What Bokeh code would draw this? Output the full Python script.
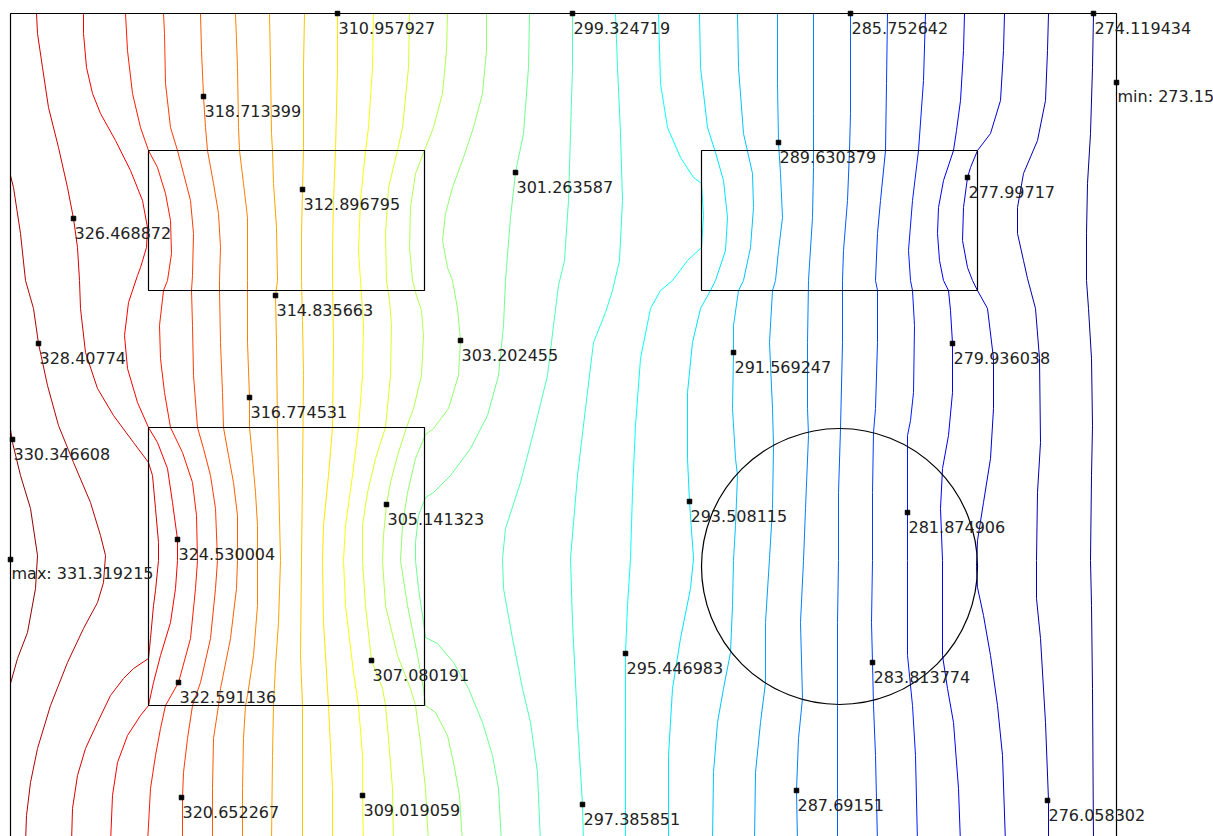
from bokeh.plotting import figure
from bokeh.models import Range1d
from bokeh.embed import file_html
from bokeh.resources import INLINE
from bokeh.core.properties import value

# ---- contour levels (K) ----
LEVELS = [274.119434, 276.058302, 277.99717, 279.936038, 281.874906, 283.813774,
          285.752642, 287.69151, 289.630379, 291.569247, 293.508115, 295.446983,
          297.385851, 299.324719, 301.263587, 303.202455, 305.141323, 307.080191,
          309.019059, 310.957927, 312.896795, 314.835663, 316.774531, 318.713399,
          320.652267, 322.591136, 324.530004, 326.468872, 328.40774, 330.346608]
T_MIN = 273.15
T_MAX = 331.319215

# ---- geometry (plate coordinates, y downward) ----
PLATE = dict(left=10, right=1116, top=13, bottom=843)
RECT_LEFT = [148, 148, 701]
RECT_RIGHT = [424, 424, 977]
RECT_TOP = [150, 427, 150]
RECT_BOTTOM = [290, 705, 290]
CIRCLE_X = [839]
CIRCLE_Y = [566]
CIRCLE_R = 138

# ---- contour paths, one per level ----
C274 = [(1093,13),(1092,67),(1090,133),(1087,183),(1086,233),(1086,280),(1088,308),(1091,358),
        (1092,425),(1091,475),(1090,560),(1091,605),(1092,688),(1093,843)]
C276 = [(1048,13),(1047,50),(1045,100),(1037,140),(1023,173),(1017,207),(1017,233),(1023,260),
        (1027,278),(1035,308),(1039,358),(1040,442),(1037,492),(1036,560),(1036,598),(1040,638),
        (1045,722),(1048,800),(1048,843)]
C278 = [(1004,13),(1003,50),(1000,100),(990,133),(977,150),(970,167),(967,177),(963,207),
        (962,240),(967,267),(972,280),(977,290),(987,308),(993,358),(993,408),(990,458),
        (983,502),(977,540),(976,566),(977,587),(983,615),(990,655),(997,705),(1002,755),(1005,843)]
C280 = [(964,13),(963,50),(960,100),(956,130),(953,150),(943,180),(938,207),(937,233),(939,260),
        (943,280),(948,290),(950,310),(952,343),(952,392),(948,435),(942,468),(940,508),(942,560),
        (942,655),(947,688),(953,722),(958,788),(960,843)]
C282 = [(925,13),(923,80),(918,150),(912,200),(908,250),(910,280),(912,290),(914,325),(913,392),
        (910,420),(907,435),(907,512),(907,560),(907,655),(912,705),(915,755),(917,843)]
C284 = [(887,13),(886,83),(885,150),(880,200),(877,233),(875,280),(877,290),(877,342),(875,408),
        (873,432),(872,492),(872,560),(871,622),(872,662),(873,705),(875,755),(877,843)]
C286 = [(850,13),(850,113),(849,150),(847,200),(843,250),(842,280),(842,342),(840,428),(838,492),
        (838,560),(837,622),(837,705),(837,843)]
C288 = [(813,13),(813,113),(813,167),(812,217),(808,280),(807,342),(807,408),(808,435),(805,508),
        (803,560),(800,622),(802,698),(798,738),(796,790),(797,843)]
C290 = [(777,13),(777,83),(778,142),(780,173),(782,217),(778,250),(775,280),(772,290),(769,342),
        (772,408),(773,445),(772,508),(769,558),(765,622),(765,682),(760,722),(755,772),(754,843)]
C292 = [(737,13),(738,67),(743,133),(752,173),(753,207),(750,247),(743,280),(738,290),(733,325),
        (733,352),(732,408),(735,458),(737,475),(735,525),(733,560),(732,605),(730,652),(723,688),
        (717,722),(713,772),(712,843)]
C294 = [(699,13),(700,67),(707,127),(715,152),(723,180),(727,217),(725,250),(715,280),(710,290),
        (700,308),(692,342),(687,392),(687,458),(689,501),(693,558),(690,588),(680,638),(672,688),
        (668,755),(668,843)]
C295 = [(658,13),(660,83),(667,127),(680,157),(693,177),(701,183),(703,215),(701,247),(687,260),
        (672,280),(660,290),(650,308),(640,358),(635,425),(632,492),(630,558),(627,605),(625,653),
        (625,722),(625,843)]
C297 = [(615,13),(617,67),(620,133),(622,200),(619,260),(612,290),(605,312),(593,342),(585,408),
        (577,475),(570,558),(572,622),(577,722),(582,804),(583,843)]
C299 = [(572,13),(572,67),(570,133),(568,200),(564,260),(558,285),(553,325),(547,375),(533,432),
        (520,482),(505,528),(502,558),(503,588),(512,638),(522,688),(530,722),(537,772),(540,843)]
C301 = [(529,13),(528,67),(523,133),(515,172),(510,217),(506,267),(505,280),(503,325),(498,375),
        (487,415),(470,448),(450,475),(433,492),(425,497),(418,515),(415,542),(415,560),(418,588),
        (423,622),(425,637),(437,643),(453,662),(468,688),(482,722),(492,755),(498,788),(501,843)]
C303 = [(486,13),(486,50),(482,93),(473,127),(463,157),(452,187),(445,213),(442,240),(447,267),
        (452,280),(457,308),(460,340),(458,375),(448,408),(433,428),(425,434),(415,458),(407,492),
        (402,525),(400,560),(407,605),(417,655),(423,688),(425,705),(435,712),(447,735),(453,762),
        (459,795),(462,843)]
C305 = [(447,13),(446,50),(442,93),(433,127),(424,150),(415,173),(410,207),(409,247),(412,280),
        (416,295),(421,310),(423,335),(421,375),(413,408),(406,427),(397,455),(390,482),(386,504),
        (383,535),(382,560),(385,605),(397,655),(410,688),(415,705),(420,742),(425,788),(428,843)]
C307 = [(409,13),(408,67),(402,127),(397,150),(388,187),(385,233),(386,280),(389,300),(391,325),
        (390,375),(385,427),(375,458),(367,492),(362,525),(362,560),(365,605),(371,660),(382,688),
        (385,705),(388,738),(392,788),(393,843)]
C309 = [(373,13),(372,67),(368,127),(365,150),(360,200),(358,250),(360,280),(363,325),(362,375),
        (358,427),(352,475),(345,525),(343,560),(345,605),(353,672),(358,705),(362,755),(362,795),
        (363,843)]
C311 = [(337,13),(337,67),(335,150),(333,200),(332,250),(332,280),(333,342),(332,427),(328,475),
        (323,525),(322,560),(323,622),(328,705),(332,788),(332,843)]
C313 = [(304,13),(303,67),(303,150),(302,189),(301,233),(301,280),(302,320),(303,375),(302,475),
        (301,560),(300,655),(302,705),(302,843)]
C315 = [(269,13),(270,67),(271,133),(272,150),(273,183),(276,227),(277,280),(275,295),(276,342),
        (277,427),(278,475),(280,560),(278,622),(275,665),(273,705),(272,755),(271,843)]
C317 = [(235,13),(237,67),(238,127),(239,150),(243,183),(247,217),(247,280),(247,342),(249,397),
        (249,427),(252,458),(255,492),(257,525),(257,560),(257,605),(253,655),(247,695),(245,705),
        (243,738),(242,788),(242,843)]
C319 = [(200,13),(201,50),(203,96),(205,127),(207,150),(213,183),(218,213),(220,247),(219,280),
        (219,290),(220,342),(222,392),(223,427),(228,455),(233,482),(237,515),(237,560),(236,588),
        (230,638),(220,688),(218,705),(213,738),(212,788),(212,843)]
C321 = [(163,13),(164,33),(165,83),(170,127),(177,150),(183,173),(190,200),(193,233),(192,275),
        (191,290),(192,325),(193,375),(197,427),(203,448),(210,475),(215,508),(217,560),(215,588),
        (210,638),(200,682),(192,705),(187,738),(183,772),(182,797),(182,843)]
C323 = [(125,13),(127,50),(132,93),(140,127),(148,150),(157,167),(165,193),(170,220),(171,253),
        (167,280),(163,290),(159,325),(160,358),(164,392),(170,427),(182,452),(192,482),(196,515),
        (197,560),(195,588),(190,638),(178,682),(165,705),(160,728),(155,755),(150,788),(147,843)]
C325 = [(83,13),(83,33),(86,67),(92,93),(100,113),(115,140),(130,170),(142,200),(147,227),
        (146,247),(140,267),(137,275),(128,302),(124,335),(127,368),(137,402),(148,427),(157,442),
        (167,468),(172,502),(177,539),(177,560),(175,588),(170,622),(160,655),(153,682),(148,705),
        (140,715),(127,735),(117,762),(112,795),(110,843)]
C326 = [(36,13),(37,33),(42,67),(48,107),(58,147),(67,187),(73,218),(77,247),(79,280),(80,308),
        (85,352),(97,388),(113,415),(133,442),(148,462),(152,475),(155,508),(158,542),(158,560),
        (155,590),(153,605),(150,638),(148,658),(133,668),(123,678),(110,695),(97,722),(85,748),
        (77,775),(72,808),(71,843)]
C328 = [(10,175),(13,187),(20,233),(25,280),(33,308),(38,343),(47,385),(58,425),(73,462),(90,502),
        (100,535),(105,555),(103,582),(97,602),(83,628),(67,662),(50,705),(37,748),(30,782),(26,815),
        (25,843)]
C330 = [(10,429),(12,442),(20,475),(30,508),(37,555),(35,588),(27,632),(17,658),(10,683)]

CONTOURS = [C274, C276, C278, C280, C282, C284, C286, C288, C290, C292, C294, C295, C297, C299,
            C301, C303, C305, C307, C309, C311, C313, C315, C317, C319, C321, C323, C325, C326,
            C328, C330]

# ---- value labels (marker position on the line + text) ----
LABEL_TEXT = ["310.957927", "299.324719", "285.752642", "274.119434", "min: 273.15",
              "318.713399", "289.630379", "312.896795", "301.263587", "326.468872",
              "277.99717", "314.835663", "303.202455", "328.40774", "291.569247",
              "279.936038", "316.774531", "330.346608", "305.141323", "293.508115",
              "281.874906", "324.530004", "max: 331.319215", "295.446983", "283.813774",
              "307.080191", "322.591136", "320.652267", "309.019059", "297.385851",
              "287.69151", "276.058302"]
LABEL_X = [337, 572, 850, 1093, 1116, 203, 778, 302, 515, 73, 967, 275, 460, 38, 733, 952,
           249, 12, 386, 689, 907, 177, 10, 625, 872, 371, 178, 181, 362, 582, 796, 1047]
LABEL_Y = [13, 13, 13, 13, 82, 96, 142, 189, 172, 218, 177, 295, 340, 343, 352, 343,
           397, 439, 504, 501, 512, 539, 559, 653, 662, 660, 682, 797, 795, 804, 790, 800]


def jet(t):
    def c(v):
        return int(round(255 * max(0.0, min(1.0, v))))
    r = c(1.5 - abs(4 * t - 3))
    g = c(1.5 - abs(4 * t - 2))
    b = c(1.5 - abs(4 * t - 1))
    return "#%02x%02x%02x" % (r, g, b)


colors = [jet((lv - T_MIN) / (T_MAX - T_MIN)) for lv in LEVELS]

p = figure(width=1213, height=836, x_range=Range1d(0, 1213), y_range=Range1d(836, 0),
           output_backend="svg", toolbar_location=None, x_axis_location=None,
           y_axis_location=None, min_border=0, outline_line_color=None)
p.grid.visible = False
p.background_fill_color = "white"
p.border_fill_color = "white"

p.multi_line(xs=[[q[0] for q in c] for c in CONTOURS],
             ys=[[q[1] for q in c] for c in CONTOURS],
             line_color=colors, line_width=1.0)

# plate frame and obstacles
p.quad(left=[PLATE["left"]], right=[PLATE["right"]], top=[PLATE["top"]], bottom=[PLATE["bottom"]],
       fill_color=None, line_color="black", line_width=1.2)
p.quad(left=RECT_LEFT, right=RECT_RIGHT, top=RECT_TOP, bottom=RECT_BOTTOM,
       fill_color=None, line_color="black", line_width=1.2)
p.circle(x=CIRCLE_X, y=CIRCLE_Y, radius=CIRCLE_R, fill_color=None, line_color="black",
         line_width=1.2)

p.scatter(x=LABEL_X, y=LABEL_Y, marker="square", size=4.5, color="black")
p.text(x=LABEL_X, y=LABEL_Y, text=LABEL_TEXT, text_font=value("DejaVu Sans"),
       text_font_size="16px", text_color="#222222", text_baseline="alphabetic",
       x_offset=1, y_offset=14)

open("out.html", "w").write(file_html(p, INLINE))
